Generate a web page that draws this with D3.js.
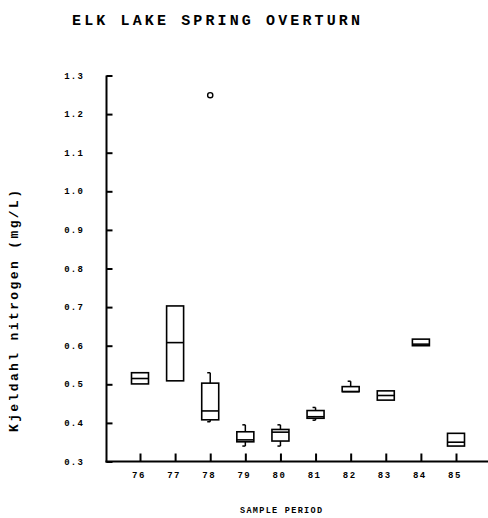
<!DOCTYPE html>
<html><head><meta charset="utf-8">
<script src="https://cdn.jsdelivr.net/npm/d3@7/dist/d3.min.js"></script>
<style>body{margin:0;background:#fff}svg{display:block}</style>
</head><body>
<script>
const categories = ["76","77","78","79","80","81","82","83","84","85"];
const q1     = [0.501,0.509,0.408,0.351,0.353,0.412,0.481,0.459,0.600,0.340];
const median = [0.515,0.608,0.431,0.356,0.376,0.416,0.481,0.471,0.604,0.350];
const q3     = [0.530,0.703,0.503,0.377,0.383,0.432,0.494,0.483,0.617,0.373];
const whiskLo= [0.501,0.509,0.403,0.340,0.340,0.407,0.481,0.459,0.600,0.340];
const whiskHi= [0.530,0.703,0.530,0.395,0.395,0.440,0.508,0.483,0.617,0.373];
const outliers = [{cat:"78", v:1.249}];
const yTicks = [0.3,0.4,0.5,0.6,0.7,0.8,0.9,1.0,1.1,1.2,1.3];
const yTickLabels = ["0.3","0.4","0.5","0.6","0.7","0.8","0.9","1.0","1.1","1.2","1.3"];

const W=488,H=518;
const svg=d3.select("body").append("svg").attr("width",W).attr("height",H);
const font="'Liberation Mono', 'DejaVu Sans Mono', monospace";

const y=d3.scaleLinear().domain([0.3,1.3]).range([461.5,75.5]);
const x=d3.scalePoint().domain(categories).range([140,456]);
const bw=17;

// axes lines
svg.append("line").attr("x1",106.5).attr("x2",106.5).attr("y1",y(1.3)).attr("y2",y(0.3)+1)
  .attr("stroke","#000").attr("stroke-width",2);
svg.append("line").attr("x1",105.5).attr("x2",488).attr("y1",y(0.3)).attr("y2",y(0.3))
  .attr("stroke","#000").attr("stroke-width",2);

// y axis via d3 axis
const yAxis=d3.axisRight(y).tickValues(yTicks).tickSize(6).tickFormat("");
const gy=svg.append("g").attr("transform","translate(106.5,0)").call(yAxis);
gy.select(".domain").remove();
gy.selectAll(".tick line").attr("stroke","#000").attr("stroke-width",2);
svg.selectAll(".ylab").data(yTicks).enter().append("text")
  .attr("x",84).attr("y",d=>y(d)+3).attr("text-anchor","end")
  .attr("font-family",font).attr("font-weight","bold").attr("font-size",9)
  .attr("letter-spacing",1.2)
  .text((d,i)=>yTickLabels[i]);

// x axis
const xAxis=d3.axisTop(x).tickSize(8).tickFormat("");
const gx=svg.append("g").attr("transform",`translate(0,${y(0.3)})`).call(xAxis);
gx.select(".domain").remove();
gx.selectAll(".tick line").attr("stroke","#000").attr("stroke-width",2);
svg.selectAll(".xlab").data(categories).enter().append("text")
  .attr("x",d=>x(d)-1).attr("y",478).attr("text-anchor","middle")
  .attr("font-family",font).attr("font-weight","bold").attr("font-size",9)
  .attr("letter-spacing",1.5)
  .text(d=>d);

// boxes
const g=svg.append("g");
categories.forEach((c,i)=>{
  const cx=x(c);
  if(whiskHi[i]>q3[i]){
    g.append("line").attr("x1",cx).attr("x2",cx).attr("y1",y(whiskHi[i])).attr("y2",y(q3[i]))
      .attr("stroke","#000").attr("stroke-width",1.5);
    g.append("line").attr("x1",cx-3).attr("x2",cx).attr("y1",y(whiskHi[i])).attr("y2",y(whiskHi[i]))
      .attr("stroke","#000").attr("stroke-width",1.5);
  }
  if(whiskLo[i]<q1[i]){
    g.append("line").attr("x1",cx).attr("x2",cx).attr("y1",y(q1[i])).attr("y2",y(whiskLo[i]))
      .attr("stroke","#000").attr("stroke-width",1.5);
    g.append("line").attr("x1",cx-3).attr("x2",cx).attr("y1",y(whiskLo[i])).attr("y2",y(whiskLo[i]))
      .attr("stroke","#000").attr("stroke-width",1.5);
  }
  g.append("rect").attr("x",cx-bw/2).attr("y",y(q3[i])).attr("width",bw)
    .attr("height",y(q1[i])-y(q3[i])).attr("fill","none").attr("stroke","#000").attr("stroke-width",1.6);
  g.append("line").attr("x1",cx-bw/2).attr("x2",cx+bw/2).attr("y1",y(median[i])).attr("y2",y(median[i]))
    .attr("stroke","#000").attr("stroke-width",1.6);
});
outliers.forEach(o=>{
  g.append("circle").attr("cx",x(o.cat)).attr("cy",y(o.v)).attr("r",2.6)
    .attr("fill","none").attr("stroke","#000").attr("stroke-width",1.4);
});

// title
svg.append("text").attr("x",72).attr("y",25).attr("font-family",font).attr("font-weight","bold")
  .attr("font-size",15).attr("textLength",288).attr("lengthAdjust","spacing")
  .text("ELK LAKE SPRING OVERTURN");
// x label
svg.append("text").attr("x",240).attr("y",513).attr("font-family",font).attr("font-weight","bold")
  .attr("font-size",8.5).attr("textLength",82).attr("lengthAdjust","spacing")
  .text("SAMPLE PERIOD");
// y label
svg.append("text").attr("transform","translate(18,432) rotate(-90)")
  .attr("font-family",font).attr("font-weight","bold")
  .attr("font-size",13).attr("textLength",242).attr("lengthAdjust","spacing")
  .text("Kjeldahl nitrogen (mg/L)");
</script>
</body></html>
